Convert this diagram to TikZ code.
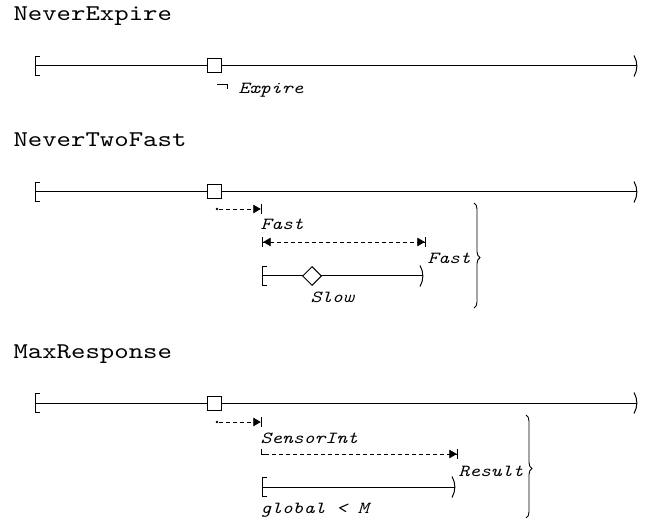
\documentclass[tikz,border=0pt]{standalone}
\usepackage{fontspec}
\usetikzlibrary{arrows.meta,shapes.geometric,decorations.pathreplacing}
\newfontfamily\courf[Extension=.otf,UprightFont=lmmono10-regular,ItalicFont=lmmono10-italic,FakeStretch=1.22]{lmmono10-regular}
\newcommand{\ttitle}{\courf\fontsize{22.5}{22.5}\selectfont}
\newcommand{\tlabel}{\courf\itshape\fontsize{16.9}{16.9}\selectfont}
\begin{document}
\begin{tikzpicture}[x=1pt,y=-1pt,line width=1pt,
  title/.style={anchor=base west,inner sep=0pt,font=\ttitle},
  lbl/.style={anchor=base west,inner sep=0pt,font=\tlabel},
  sq/.style={draw,fill=white,minimum size=14pt,inner sep=0pt},
  dia/.style={diamond,draw,fill=white,minimum width=19pt,minimum height=19pt,inner sep=0pt},
  dotn/.style={circle,fill,inner sep=0pt,minimum size=2.6pt},
  dashline/.style={line width=0.8pt,dash pattern=on 4pt off 3pt},
  tipend/.style={-{Triangle[length=7.5pt,width=8.5pt]Bar[width=10pt,line width=1.2pt]}},
  tipboth/.style={{Bar[width=10pt,line width=1.2pt]Triangle[length=7.5pt,width=8.5pt]}-{Triangle[length=7.5pt,width=8.5pt]Bar[width=10pt,line width=1.2pt]}},
  bracebig/.style={line width=0.9pt,decorate,decoration={brace,amplitude=6pt,aspect=0.52}},
  openb/.pic={\draw (5,-9.5) -- (0,-9.5) -- (0,9.5) -- (5,9.5);},
  closeb/.pic={\draw (-3,-10.5) .. controls (0.8,-4) and (0.8,4) .. (-3,10.5);}
]
\useasboundingbox (0,0) rectangle (656,521);

% ---------- NeverExpire ----------
\node[title] (t1) at (13,21) {NeverExpire};
\coordinate (l1a) at (35,66);
\coordinate (l1b) at (637,66);
\draw (l1a) -- (l1b);
\pic at (l1a) {openb};
\pic at (l1b) {closeb};
\node[sq] (s1) at (214,66) {};
\coordinate (n1) at (217,84);
\draw[line width=0.8pt] (n1) -- ++(10,0) -- ++(0,5);
\node[lbl] (e1) at (238,94) {Expire};

% ---------- NeverTwoFast ----------
\node[title] (t2) at (13,147) {NeverTwoFast};
\coordinate (l2a) at (35,192);
\coordinate (l2b) at (637,192);
\draw (l2a) -- (l2b);
\pic at (l2a) {openb};
\pic at (l2b) {closeb};
\node[sq] (s2) at (214,192) {};
\node[dotn] (d2) at (217,209) {};
\coordinate (d2e) at (262,209);
\draw[dashline,tipend] (d2) -- (d2e);
\node[lbl] (f2a) at (260,230) {Fast};
\coordinate (a2l) at (262,242);
\coordinate (a2r) at (426,242);
\draw[dashline,tipboth] (a2l) -- (a2r);
\node[lbl] (f2b) at (427,264) {Fast};
\coordinate (i2a) at (262,276);
\coordinate (i2b) at (423,276);
\draw (i2a) -- (i2b);
\pic at (i2a) {openb};
\pic at (i2b) {closeb};
\node[dia] (g2) at (312,276) {};
\node[lbl] (sl2) at (310,303) {Slow};
\coordinate (b2t) at (474,203);
\coordinate (b2b) at (474,308);
\draw[bracebig] (b2t) -- (b2b);

% ---------- MaxResponse ----------
\node[title] (t3) at (13,358) {MaxResponse};
\coordinate (l3a) at (35,403);
\coordinate (l3b) at (637,403);
\draw (l3a) -- (l3b);
\pic at (l3a) {openb};
\pic at (l3b) {closeb};
\node[sq] (s3) at (214,403) {};
\node[dotn] (d3) at (217,422) {};
\coordinate (d3e) at (262,422);
\draw[dashline,tipend] (d3) -- (d3e);
\node[lbl] (si3) at (260,443) {SensorInt};
\coordinate (h3t) at (261,449);
\coordinate (h3c) at (261,454);
\coordinate (h3s) at (265,454);
\coordinate (h3e) at (458,454);
\draw[line width=0.8pt] (h3t) -- (h3c) -- (h3s);
\draw[dashline,tipend] (h3s) -- (h3e);
\node[lbl] (r3) at (458,476) {Result};
\coordinate (i3a) at (262,487);
\coordinate (i3b) at (455,487);
\draw (i3a) -- (i3b);
\pic at (i3a) {openb};
\pic at (i3b) {closeb};
\node[lbl] (gm3) at (260,513) {global < M};
\coordinate (b3t) at (526,415);
\coordinate (b3b) at (526,518);
\draw[bracebig] (b3t) -- (b3b);
\end{tikzpicture}
\end{document}
